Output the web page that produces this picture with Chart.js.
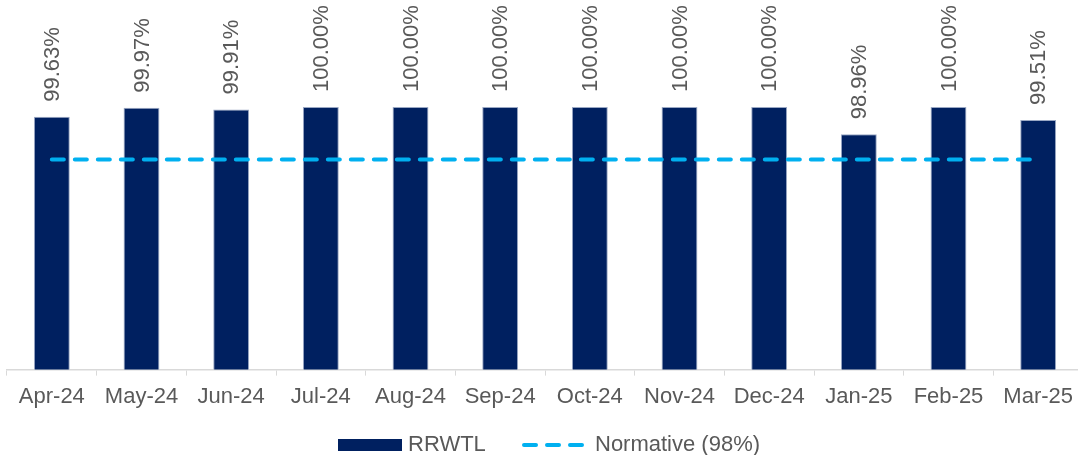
<!DOCTYPE html>
<html>
<head>
<meta charset="utf-8">
<script src="https://cdn.jsdelivr.net/npm/chart.js@4/dist/chart.umd.min.js"></script>
<style>
  html, body { margin: 0; padding: 0; background: #fff; overflow: hidden; }
  #wrap { width: 1083px; height: 455px; }
</style>
</head>
<body>
<div id="wrap"><canvas id="c"></canvas></div>
<script>
// RRWTL monthly availability vs normative
const months = ['Apr-24', 'May-24', 'Jun-24', 'Jul-24', 'Aug-24', 'Sep-24', 'Oct-24', 'Nov-24', 'Dec-24', 'Jan-25', 'Feb-25', 'Mar-25'];
const rrwtl = [99.63, 99.97, 99.91, 100.00, 100.00, 100.00, 100.00, 100.00, 100.00, 98.96, 100.00, 99.51];
const normative = [98, 98, 98, 98, 98, 98, 98, 98, 98, 98, 98, 98];
const seriesNames = ['RRWTL', 'Normative (98%)'];

const palette = {
  bar: '#002060',
  line: '#00B0F0',
  text: '#595959',
  axis: '#d9d9d9',
};
const FONT = 'Arial, "Liberation Sans", sans-serif';

// rotated value labels above each bar
const barLabels = {
  id: 'barLabels',
  afterDatasetsDraw(chart) {
    const meta = chart.getDatasetMeta(0);
    const ctx = chart.ctx;
    ctx.save();
    ctx.font = '22px ' + FONT;
    ctx.fillStyle = palette.text;
    ctx.textAlign = 'left';
    ctx.textBaseline = 'middle';
    meta.data.forEach((bar, i) => {
      ctx.save();
      ctx.translate(bar.x + 1, bar.y - 15);
      ctx.rotate(-Math.PI / 2);
      ctx.fillText(rrwtl[i].toFixed(2) + '%', 0, 0);
      ctx.restore();
    });
    ctx.restore();
  }
};

// legend at the bottom: filled box for bars, dashed segment for line
const bottomLegend = {
  id: 'bottomLegend',
  afterDraw(chart) {
    const ctx = chart.ctx;
    const y = 445;
    ctx.save();
    ctx.font = '22px ' + FONT;
    ctx.textBaseline = 'middle';
    ctx.textAlign = 'left';

    ctx.fillStyle = palette.bar;
    ctx.fillRect(338, y - 6, 64, 12);
    ctx.fillStyle = palette.text;
    ctx.fillText(seriesNames[0], 408, y);

    ctx.strokeStyle = palette.line;
    ctx.lineWidth = 4;
    ctx.lineCap = 'round';
    ctx.setLineDash([12, 11]);
    ctx.beginPath();
    ctx.moveTo(524, y);
    ctx.lineTo(584, y);
    ctx.stroke();
    ctx.setLineDash([]);
    ctx.fillText(seriesNames[1], 595, y);
    ctx.restore();
  }
};

new Chart(document.getElementById('c'), {
  type: 'bar',
  data: {
    labels: months,
    datasets: [
      {
        type: 'bar',
        label: seriesNames[0],
        data: rrwtl,
        backgroundColor: palette.bar,
        borderColor: '#9aa8c4',
        borderWidth: 1,
        barPercentage: 0.8,
        categoryPercentage: 0.5,
        order: 1,
      },
      {
        type: 'line',
        label: seriesNames[1],
        data: normative,
        borderColor: palette.line,
        borderWidth: 4,
        borderDash: [12, 11],
        borderCapStyle: 'round',
        pointRadius: 0,
        fill: false,
        order: 0,
      },
    ],
  },
  options: {
    responsive: true,
    maintainAspectRatio: false,
    animation: false,
    layout: { padding: { top: 2, left: 7, right: 0, bottom: 37 } },
    plugins: {
      legend: { display: false },
      tooltip: { enabled: false },
    },
    scales: {
      x: {
        offset: true,
        grid: { display: true, drawOnChartArea: false, tickLength: 6, color: palette.axis, offset: true },
        border: { display: true, color: palette.axis, width: 1.5 },
        ticks: { color: palette.text, font: { family: FONT, size: 22 }, padding: 8, maxRotation: 0, autoSkip: false },
      },
      y: {
        display: false,
        min: 90,
        max: 104,
      },
    },
  },
  plugins: [barLabels, bottomLegend],
});
</script>
</body>
</html>
